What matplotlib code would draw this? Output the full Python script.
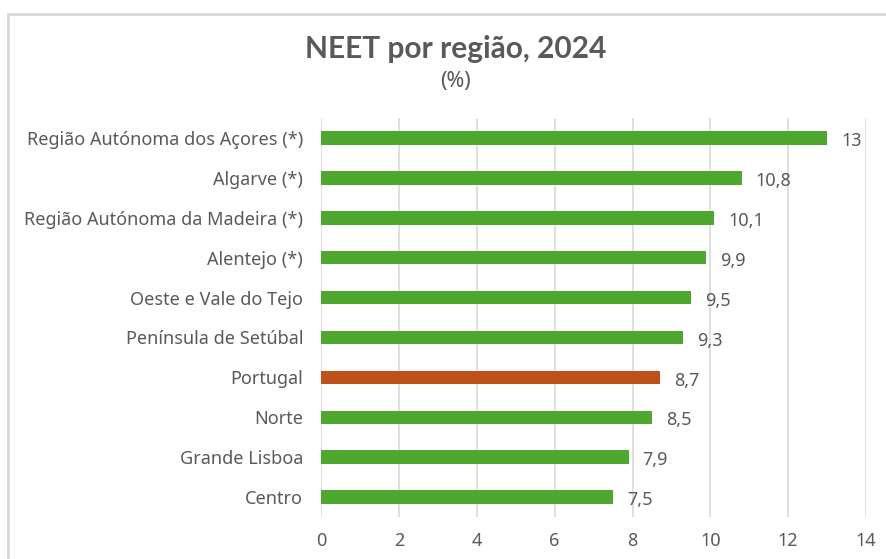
import matplotlib.pyplot as plt
from matplotlib.patches import Rectangle

# data (bottom to top)
regioes = ['Centro', 'Grande Lisboa', 'Norte', 'Portugal',
           'Península de Setúbal', 'Oeste e Vale do Tejo', 'Alentejo (*)',
           'Região Autónoma da Madeira (*)', 'Algarve (*)',
           'Região Autónoma dos Açores (*)']
valores = [7.5, 7.9, 8.5, 8.7, 9.3, 9.5, 9.9, 10.1, 10.8, 13]
rotulos = ['7,5', '7,9', '8,5', '8,7', '9,3', '9,5', '9,9', '10,1', '10,8', '13']

plt.rcParams['font.family'] = ['Noto Sans', 'DejaVu Sans']
cinza = '#595959'
verde = '#4EA72E'
laranja = '#C0501A'
cores = [laranja if r == 'Portugal' else verde for r in regioes]

fig = plt.figure(figsize=(8.87, 5.59), dpi=100)
ax = fig.add_axes([0.362, 0.075, 0.6144, 0.714])

y = range(len(regioes))
ax.barh(y, valores, height=0.34, color=cores, zorder=3)
for yi, v, lab in zip(y, valores, rotulos):
    ax.text(v + 0.36, yi - 0.08, lab, va='center', ha='left', fontsize=13, color=cinza)

ax.set_xlim(0, 14)
ax.set_ylim(-0.5, len(regioes) - 0.5)
ax.set_xticks(range(0, 15, 2))
ax.set_yticks(list(y))
ax.set_yticklabels(regioes)
ax.tick_params(axis='both', length=0, labelsize=13, colors=cinza)
ax.tick_params(axis='y', pad=13)
ax.tick_params(axis='x', pad=11)
ax.grid(axis='x', color='#d9d9d9', linewidth=1.2, zorder=0)
for s in ax.spines.values():
    s.set_visible(False)

fig.text(0.514, 0.913, 'NEET por região, 2024', ha='center', va='center',
         fontsize=21.5, fontweight='bold', color=cinza, family=['Lato', 'DejaVu Sans'])
fig.text(0.514, 0.855, '(%)', ha='center', va='center', fontsize=15.5, color=cinza)

# chart border
fig.patches.append(Rectangle((8 / 887, -0.1), 1.1, 1 - 14 / 559 + 0.1,
                             transform=fig.transFigure, fill=False,
                             edgecolor='#d9d9d9', linewidth=2))

fig.savefig('out.png', dpi=100)
